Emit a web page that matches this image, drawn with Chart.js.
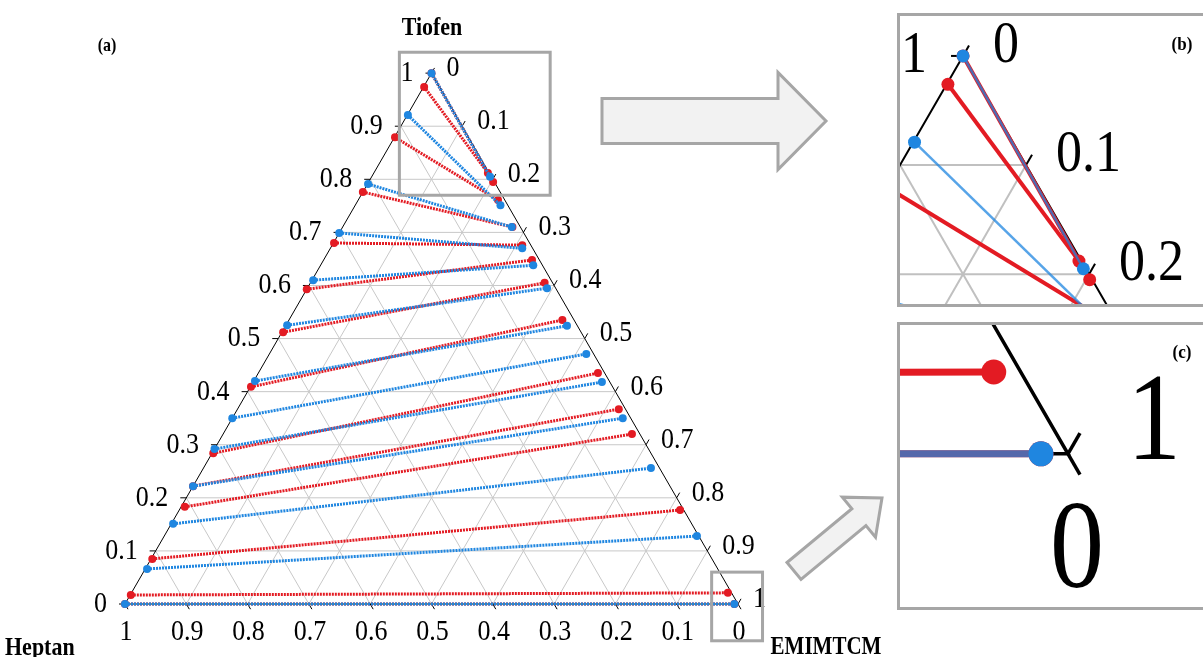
<!DOCTYPE html>
<html>
<head>
<meta charset="utf-8">
<script src="https://cdn.jsdelivr.net/npm/chart.js@4.4.0/dist/chart.umd.min.js"></script>
<style>
  html, body { margin: 0; padding: 0; background: #fff; overflow: hidden; }
  #wrap { position: relative; width: 1203px; height: 657px; overflow: hidden; }
  canvas { position: absolute; }
  #main { left: 0; top: 0; }
  #insB { left: 897px; top: 13px; }
  #insC { left: 897px; top: 322px; }
</style>
</head>
<body>
<div id="wrap">
  <canvas id="main" width="1203" height="657"></canvas>
  <canvas id="insB" width="310" height="294"></canvas>
  <canvas id="insC" width="310" height="288"></canvas>
</div>
<script>
// tie lines, mole fractions
// raffinate end (heptane side): tiofen + EMIMTCM fraction; extract end (IL side): tiofen + heptan fraction
var redRaffTiofen = [1.000, 0.974, 0.879, 0.776, 0.680, 0.593, 0.512, 0.409, 0.284, 0.222, 0.183, 0.085, 0.017, 0.000];
var redRaffIL     = [0.000, 0.001, 0.001, 0.000, 0.001, 0.000, 0.002, 0.001, 0.002, 0.000, 0.006, 0.002, 0.001, 0.000];
var redExtTiofen  = [0.795, 0.812, 0.761, 0.710, 0.676, 0.648, 0.605, 0.535, 0.435, 0.367, 0.320, 0.177, 0.021, 0.000];
var redExtHeptan  = [0.002, 0.002, 0.011, 0.013, 0.014, 0.012, 0.013, 0.019, 0.011, 0.011, 0.013, 0.006, 0.006, 0.006];

var blueRaffTiofen = [1.000, 0.921, 0.791, 0.699, 0.610, 0.525, 0.420, 0.350, 0.292, 0.222, 0.151, 0.066, 0.000];
var blueRaffIL     = [0.000, 0.001, 0.001, 0.000, 0.002, 0.002, 0.002, 0.000, 0.000, 0.000, 0.003, 0.003, 0.000];
var blueExtTiofen  = [0.805, 0.751, 0.710, 0.670, 0.638, 0.595, 0.524, 0.471, 0.418, 0.350, 0.256, 0.128, 0.000];
var blueExtHeptan  = [0.002, 0.012, 0.014, 0.017, 0.015, 0.014, 0.017, 0.012, 0.013, 0.013, 0.014, 0.003, 0.006];

var tickLabels = ['0', '0.1', '0.2', '0.3', '0.4', '0.5', '0.6', '0.7', '0.8', '0.9', '1'];

var S3 = Math.sqrt(3) / 2;
// ternary -> cartesian (top = tiofen, right = EMIMTCM, left = heptan)
function tern(t, e) { return { x: e + t / 2, y: t * S3 }; }

var ternaryAxes = {
  id: 'ternaryAxes',
  beforeDatasetsDraw: function (chart, args, o) {
    var ctx = chart.ctx, sx = chart.scales.x, sy = chart.scales.y;
    function P(t, e) { var q = tern(t, e); return [sx.getPixelForValue(q.x), sy.getPixelForValue(q.y)]; }
    function line(a, b) { ctx.beginPath(); ctx.moveTo(a[0], a[1]); ctx.lineTo(b[0], b[1]); ctx.stroke(); }
    function text(s, x, y, align) {
      ctx.save(); ctx.translate(x, y); ctx.scale(1, o.stretch);
      ctx.textAlign = align; ctx.fillText(s, 0, 0); ctx.restore();
    }
    ctx.save();
    ctx.strokeStyle = o.gridColor; ctx.lineWidth = o.gridWidth;
    for (var i = 1; i < 10; i++) {
      var v = i / 10;
      line(P(v, 0), P(v, 1 - v));
      line(P(0, v), P(1 - v, v));
      line(P(0, 1 - v), P(1 - v, 0));
    }
    ctx.strokeStyle = '#000'; ctx.lineWidth = o.edgeWidth;
    var A = P(1, 0), B = P(0, 0), C = P(0, 1);
    ctx.beginPath(); ctx.moveTo(A[0], A[1]); ctx.lineTo(B[0], B[1]); ctx.lineTo(C[0], C[1]); ctx.closePath(); ctx.stroke();
    var L = o.tickLen;
    ctx.fillStyle = '#000'; ctx.textBaseline = 'middle';
    ctx.font = o.fontSize + 'px "Liberation Serif"';
    for (var j = 0; j <= 10; j++) {
      var w = j / 10;
      var pl = P(w, 0);
      line(pl, [pl[0] - L, pl[1]]);
      text(tickLabels[j], pl[0] + o.leftOff[0], pl[1] + o.leftOff[1], 'right');
      var pr = P(1 - w, w);
      line(pr, [pr[0] + L * 0.5, pr[1] - L * S3]);
      text(tickLabels[j], pr[0] + o.rightOff[0], pr[1] + o.rightOff[1], 'left');
      var pb = P(0, 1 - w);
      line(pb, [pb[0] + L * 0.5, pb[1] + L * S3]);
      text(tickLabels[j], pb[0] + o.bottomOff[0], pb[1] + o.bottomOff[1], 'center');
    }
    ctx.restore();
  },
  afterDraw: function (chart, args, o) {
    var ctx = chart.ctx, sx = chart.scales.x, sy = chart.scales.y;
    ctx.save();
    ctx.strokeStyle = '#a6a6a6'; ctx.lineWidth = 3; ctx.lineJoin = 'miter';
    (o.boxes || []).forEach(function (w) {
      var x0 = sx.getPixelForValue(w.xMin), x1 = sx.getPixelForValue(w.xMax);
      var y0 = sy.getPixelForValue(w.yMax), y1 = sy.getPixelForValue(w.yMin);
      ctx.strokeRect(x0, y0, x1 - x0, y1 - y0);
    });
    (o.arrows || []).forEach(function (a) {
      var dx = a.tip[0] - a.tail[0], dy = a.tip[1] - a.tail[1], len = Math.hypot(dx, dy);
      var d = [dx / len, dy / len], n = [-d[1], d[0]];
      var bc = [a.tip[0] - d[0] * a.hl, a.tip[1] - d[1] * a.hl];
      var pts = [
        [a.tail[0] + n[0] * a.bw, a.tail[1] + n[1] * a.bw],
        [bc[0] + n[0] * a.bw, bc[1] + n[1] * a.bw],
        [bc[0] + n[0] * a.hw, bc[1] + n[1] * a.hw],
        a.tip,
        [bc[0] - n[0] * a.hw, bc[1] - n[1] * a.hw],
        [bc[0] - n[0] * a.bw, bc[1] - n[1] * a.bw],
        [a.tail[0] - n[0] * a.bw, a.tail[1] - n[1] * a.bw]
      ];
      ctx.beginPath();
      pts.forEach(function (p, k) { if (k) ctx.lineTo(p[0], p[1]); else ctx.moveTo(p[0], p[1]); });
      ctx.closePath();
      ctx.fillStyle = '#f2f2f2'; ctx.fill(); ctx.stroke();
    });
    if (o.frame) ctx.strokeRect(1.5, 1.5, chart.width - 3, chart.height - 3);
    ctx.fillStyle = '#000'; ctx.textBaseline = 'middle';
    (o.texts || []).forEach(function (t) {
      ctx.save();
      ctx.font = 'bold ' + t.size + 'px "Liberation Serif"';
      ctx.textAlign = t.align;
      ctx.translate(t.x, t.y); ctx.scale(1, o.stretch);
      ctx.fillText(t.s, 0, 0);
      ctx.restore();
    });
    ctx.restore();
  }
};

function tieSets(raffT, raffE, extT, extH, color, st) {
  return raffT.map(function (t, i) {
    return {
      data: [tern(t, raffE[i]), tern(extT[i], 1 - extT[i] - extH[i])],
      showLine: true,
      borderColor: color,
      borderWidth: st.lineWidth,
      borderDash: st.dash,
      pointRadius: st.radius,
      pointBackgroundColor: st.pointColor || color,
      pointBorderWidth: 0
    };
  });
}

function makeChart(id, win, st) {
  // first dataset is painted last, so blue goes first to sit on top of red
  var datasets = tieSets(blueRaffTiofen, blueRaffIL, blueExtTiofen, blueExtHeptan, st.blue,
      { lineWidth: st.blueWidth, dash: st.dash, radius: st.radius, pointColor: st.bluePoint })
    .concat(tieSets(redRaffTiofen, redRaffIL, redExtTiofen, redExtHeptan, st.red,
      { lineWidth: st.redWidth, dash: st.dash, radius: st.radius }));
  return new Chart(document.getElementById(id), {
    type: 'scatter',
    data: { datasets: datasets },
    options: {
      responsive: false,
      animation: false,
      devicePixelRatio: 1,
      layout: { padding: 0, autoPadding: false },
      plugins: { legend: { display: false }, tooltip: { enabled: false }, ternaryAxes: st.axes },
      scales: {
        x: { type: 'linear', display: false, min: win.xMin, max: win.xMax },
        y: { type: 'linear', display: false, min: win.yMin, max: win.yMax }
      }
    },
    plugins: [ternaryAxes]
  });
}

var mainWin = { xMin: -125 / 613, xMax: 1078 / 613, yMin: -53 / 613, yMax: 604 / 613 };
var winB = { xMin: 0.4476, xMax: 0.6936, yMin: 0.6668, yMax: 0.9001 };
var winC = { xMin: 0.962, xMax: 1.0309, yMin: -0.0347, yMax: 0.0293 };
var boxC = { xMin: 0.957, xMax: 1.040, yMin: -0.060, yMax: 0.052 };

makeChart('main', mainWin, {
  red: '#e31b23', blue: '#1f86e0', redWidth: 3, blueWidth: 3, dash: [2, 1], radius: 4,
  axes: {
    gridColor: '#c8c8c8', gridWidth: 1, edgeWidth: 1, tickLen: 6, fontSize: 26, stretch: 1.15,
    leftOff: [-18, 0], rightOff: [15, -5], bottomOff: [1, 28],
    boxes: [winB, boxC],
    arrows: [
      { tail: [602, 121], tip: [826, 121], bw: 22.5, hw: 48.5, hl: 48 },
      { tail: [794, 571], tip: [882, 498], bw: 11, hw: 26, hl: 30 }
    ],
    texts: [
      { s: 'Tiofen', x: 432, y: 28, size: 22, align: 'center' },
      { s: 'Heptan', x: 5, y: 648, size: 22, align: 'left' },
      { s: 'EMIMTCM', x: 826, y: 648, size: 21, align: 'center' },
      { s: '(a)', x: 107, y: 46, size: 16, align: 'center' }
    ]
  }
});

makeChart('insB', winB, {
  red: '#e31b23', blue: 'rgba(31,134,224,0.75)', bluePoint: '#1f86e0',
  redWidth: 4, blueWidth: 2.5, dash: [], radius: 6.5,
  axes: {
    gridColor: '#c0c0c0', gridWidth: 2, edgeWidth: 2, tickLen: 12, fontSize: 52, stretch: 1.15,
    leftOff: [-36, 0], rightOff: [30, -10], bottomOff: [2, 56], frame: true,
    texts: [{ s: '(b)', x: 285, y: 32, size: 17, align: 'center' }]
  }
});

makeChart('insC', winC, {
  red: '#e31b23', blue: 'rgba(31,134,224,0.72)', bluePoint: '#1f86e0',
  redWidth: 7, blueWidth: 7, dash: [], radius: 12.5,
  axes: {
    gridColor: '#c0c0c0', gridWidth: 3, edgeWidth: 3.5, tickLen: 24, fontSize: 108, stretch: 1.15,
    leftOff: [-60, 0], rightOff: [59, -27], bottomOff: [9, 101], frame: true,
    texts: [{ s: '(c)', x: 285, y: 31, size: 17, align: 'center' }]
  }
});
</script>
</body>
</html>
